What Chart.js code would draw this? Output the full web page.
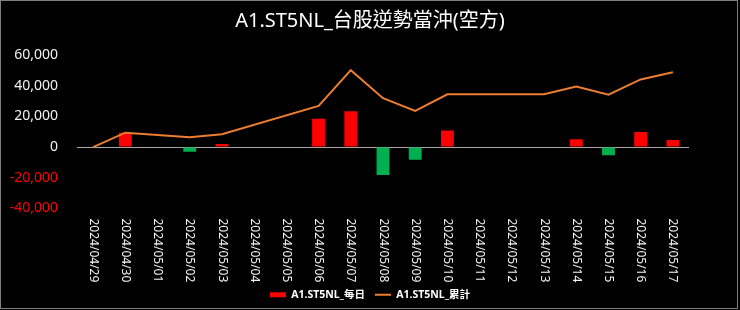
<!DOCTYPE html>
<html>
<head>
<meta charset="utf-8">
<title>A1.ST5NL</title>
<script src="https://cdn.jsdelivr.net/npm/chart.js@4/dist/chart.umd.min.js"></script>
<style>
  html, body { margin: 0; padding: 0; background: #000; }
  canvas { display: block; }
</style>
</head>
<body>
<canvas id="pnlChart" width="740" height="310"></canvas>
<script>
// Chart data
const labels = ['2024/04/29', '2024/04/30', '2024/05/01', '2024/05/02', '2024/05/03', '2024/05/04', '2024/05/05',
  '2024/05/06', '2024/05/07', '2024/05/08', '2024/05/09', '2024/05/10', '2024/05/11', '2024/05/12',
  '2024/05/13', '2024/05/14', '2024/05/15', '2024/05/16', '2024/05/17'];
const daily = [0, 9400, null, -3000, 2000, null, null, 18400, 23300, -18200, -8300, 10800, null, null, 0, 5100, -5300, 9900, 4600];
const cumulative = [0, 9400, null, 6400, 8400, null, null, 26800, 50100, 31900, 23600, 34400, null, null, 34400, 39500, 34200, 44100, 48700];
const yTicks = [-40000, -20000, 0, 20000, 40000, 60000];

const RED = '#FF0000';
const GREEN = '#00B050';
const ORANGE = '#ED7D31';
const FONT = "'Noto Sans', 'Noto Sans CJK TC', sans-serif";

// draws the frame and the vertical date labels
const framePlugin = {
  id: 'frame',
  beforeDraw(chart) {
    const c = chart.ctx;
    c.save();
    c.fillStyle = '#000';
    c.fillRect(0, 0, chart.width, chart.height);
    c.strokeStyle = '#7F7F7F';
    c.lineWidth = 1;
    c.strokeRect(0.5, 0.5, 737, 308);
    c.restore();
  },
  afterDraw(chart) {
    const c = chart.ctx;
    const x = chart.scales.x;
    c.save();
    c.fillStyle = '#F2F2F2';
    c.font = '12px ' + FONT;
    c.textAlign = 'left';
    c.textBaseline = 'middle';
    labels.forEach((label, i) => {
      c.save();
      c.translate(x.getPixelForValue(i), chart.chartArea.bottom + 10);
      c.rotate(Math.PI / 2);
      c.fillText(label, 0, 0);
      c.restore();
    });
    c.restore();
  }
};

document.addEventListener('DOMContentLoaded', function() {
  const ctx = document.getElementById('pnlChart');

  new Chart(ctx, {
    type: 'bar',
    data: {
      labels: labels,
      datasets: [
        {
          label: 'A1.ST5NL_每日',
          data: daily,
          backgroundColor: (c) => (c.raw < 0 ? GREEN : RED),
          categoryPercentage: 1,
          barPercentage: 0.4,
          order: 2
        },
        {
          type: 'line',
          label: 'A1.ST5NL_累計',
          data: cumulative,
          borderColor: ORANGE,
          borderWidth: 2,
          pointRadius: 0,
          spanGaps: true,
          tension: 0,
          order: 1
        }
      ]
    },
    options: {
      responsive: false,
      animation: false,
      layout: {
        padding: { left: 0, right: 0, top: 0, bottom: 0 }
      },
      plugins: {
        title: {
          display: true,
          text: 'A1.ST5NL_台股逆勢當沖(空方)',
          color: '#FFFFFF',
          font: { family: FONT, size: 20, weight: 'normal' },
          padding: { top: 9, bottom: 22 }
        },
        legend: {
          position: 'bottom',
          labels: {
            color: '#FFFFFF',
            font: { family: FONT, size: 10.5, weight: 'bold' },
            usePointStyle: true,
            pointStyleWidth: 16,
            boxHeight: 5,
            padding: 10,
            generateLabels: () => [
              { text: 'A1.ST5NL_每日', fillStyle: RED, strokeStyle: RED, lineWidth: 0, pointStyle: 'rect', fontColor: '#FFFFFF', datasetIndex: 0 },
              { text: 'A1.ST5NL_累計', fillStyle: ORANGE, strokeStyle: ORANGE, lineWidth: 2, pointStyle: 'line', fontColor: '#FFFFFF', datasetIndex: 1 }
            ]
          }
        },
        tooltip: { enabled: false }
      },
      scales: {
        x: {
          grid: { display: false },
          border: { display: false },
          ticks: { display: false },
          afterFit: (scale) => { scale.height = 71; }
        },
        y: {
          min: -40000,
          max: 60000,
          afterBuildTicks: (scale) => { scale.ticks = yTicks.map(v => ({ value: v })); },
          afterFit: (scale) => { scale.width = 77; },
          border: { display: false },
          grid: {
            drawTicks: false,
            color: (c) => (c.tick && c.tick.value === 0 ? '#A6A6A6' : 'transparent'),
            lineWidth: 1
          },
          ticks: {
            padding: 19,
            color: (c) => (c.tick && c.tick.value < 0 ? RED : '#F2F2F2'),
            font: { family: FONT, size: 14 },
            callback: (v) => v.toLocaleString('en-US')
          }
        },
        // empty right axis, only reserves the right margin
        yRight: {
          position: 'right',
          display: true,
          grid: { display: false },
          border: { display: false },
          ticks: { display: false },
          afterFit: (scale) => { scale.width = 51; }
        }
      }
    },
    plugins: [framePlugin]
  });
});
</script>
</body>
</html>
